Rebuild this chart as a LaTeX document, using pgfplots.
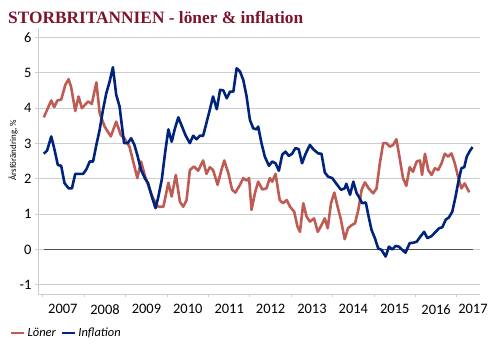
\documentclass[border=0pt]{standalone}
\usepackage{fontspec}
\setmainfont{Carlito}
\newfontfamily\titlefont{Liberation Serif}
\usepackage{pgfplots}
\pgfplotsset{compat=1.18}
\definecolor{lonred}{RGB}{190,92,84}
\definecolor{inflblue}{RGB}{0,35,125}
\definecolor{titlered}{RGB}{125,20,45}
\definecolor{gridgray}{RGB}{205,205,205}
\definecolor{zerogray}{RGB}{80,80,80}
\begin{document}
\begin{tikzpicture}
\useasboundingbox (0,0) rectangle (500bp,353bp);
\node[anchor=base west, inner sep=0pt, text=titlered, font=\titlefont\bfseries\fontsize{17.4}{18}\selectfont] at (8bp,329.7bp) {STORBRITANNIEN - löner \& inflation};
\node[rotate=90, inner sep=0pt, font=\fontsize{9}{10}\selectfont] at (13bp,203bp) {Årsförändring, \%};
\begin{axis}[
  at={(38bp,59bp)}, anchor=south west,
  scale only axis, width=442bp, height=266bp,
  xmin=2006.88, xmax=2017.56, ymin=-1.26, ymax=6.27,
  axis lines*=left,
  axis line style={gridgray, line width=1bp},
  ytick={-1,0,1,2,3,4,5,6},
  yticklabels={-1,0,1,2,3,4,5,6},
  xtick={2007.48,2008.5,2009.5,2010.5,2011.5,2012.5,2013.5,2014.5,2015.5,2016.5,2017.39},
  xticklabels={2007,2008,2009,2010,2011,2012,2013,2014,2015,2016,2017},
  minor xtick={2007,2008,2009,2010,2011,2012,2013,2014,2015,2016,2017},
  major x tick style={draw=none},
  tick align=outside,
  major tick length=3bp, minor tick length=3bp,
  tick style={gridgray, line width=1bp},
  ymajorgrids,
  grid style={gridgray, line width=1bp},
  tick label style={font=\fontsize{14.5}{14.5}\selectfont},
  xticklabel style={yshift=-4bp},
  legend columns=2,
  legend style={at={(-0.0633,-0.1466)}, anchor=west, draw=none, fill=none, inner sep=0pt,
    font=\itshape\fontsize{12.5}{13}\selectfont,
    /tikz/every even column/.append style={column sep=3bp}},
  legend image code/.code={\draw[#1, line width=2.5bp] (0bp,0bp) -- (13bp,0bp);},
]
\addplot[zerogray, line width=1bp, forget plot] coordinates {(2007.02,0) (2017.38,0)};
\addplot[lonred, line width=2.6bp, line join=round] coordinates {
(2007.02,3.74) (2007.20,4.22) (2007.27,4.03) (2007.35,4.22) (2007.44,4.24) (2007.54,4.66)
(2007.62,4.82) (2007.68,4.60) (2007.78,3.92) (2007.86,4.33) (2007.94,4.00) (2008.09,4.19)
(2008.18,4.12) (2008.29,4.73) (2008.37,3.86) (2008.49,3.48) (2008.64,3.20) (2008.77,3.62)
(2008.88,3.24) (2008.97,3.15) (2009.09,2.91) (2009.28,2.02) (2009.37,2.49) (2009.47,2.06)
(2009.58,1.69) (2009.66,1.45) (2009.78,1.21) (2009.91,1.21) (2010.03,1.89) (2010.11,1.50)
(2010.21,2.11) (2010.31,1.35) (2010.39,1.21) (2010.47,1.40) (2010.55,2.25) (2010.65,2.35)
(2010.75,2.23) (2010.87,2.52) (2010.95,2.14) (2011.03,2.33) (2011.11,2.25) (2011.22,1.83)
(2011.30,2.20) (2011.38,2.52) (2011.48,2.16) (2011.57,1.69) (2011.65,1.61) (2011.76,1.83)
(2011.84,2.02) (2011.92,1.95) (2011.98,2.02) (2012.04,1.12) (2012.12,1.59) (2012.20,1.92)
(2012.30,1.70) (2012.40,1.73) (2012.48,2.02) (2012.54,1.92) (2012.62,2.14) (2012.72,1.40)
(2012.80,1.31) (2012.89,1.40) (2012.97,1.21) (2013.07,1.07) (2013.15,0.65) (2013.21,0.50)
(2013.29,1.31) (2013.37,0.93) (2013.45,0.79) (2013.55,0.88) (2013.64,0.50) (2013.73,0.69)
(2013.81,0.88) (2013.88,0.60) (2013.96,1.31) (2014.04,1.61) (2014.12,1.21) (2014.20,0.84)
(2014.29,0.29) (2014.37,0.60) (2014.46,0.69) (2014.54,0.74) (2014.62,1.12) (2014.70,1.69)
(2014.78,1.90) (2014.87,1.73) (2014.98,1.59) (2015.06,1.73) (2015.14,2.44) (2015.22,3.01)
(2015.30,3.01) (2015.38,2.91) (2015.46,2.96) (2015.54,3.12) (2015.62,2.58) (2015.70,2.02)
(2015.78,1.80) (2015.86,2.33) (2015.94,2.20) (2016.03,2.49) (2016.11,2.52) (2016.16,2.11)
(2016.23,2.71) (2016.31,2.25) (2016.39,2.11) (2016.47,2.30) (2016.55,2.25) (2016.63,2.44)
(2016.71,2.71) (2016.79,2.63) (2016.87,2.72) (2016.95,2.44) (2017.03,2.06) (2017.11,1.73)
(2017.19,1.87) (2017.30,1.62)
};
\addlegendentry{Löner}
\addplot[inflblue, line width=2.6bp, line join=round] coordinates {
(2007.02,2.71) (2007.10,2.80) (2007.20,3.20) (2007.28,2.82) (2007.36,2.39) (2007.44,2.37)
(2007.52,1.88) (2007.62,1.73) (2007.70,1.73) (2007.78,2.14) (2007.89,2.14) (2007.97,2.14)
(2008.05,2.27) (2008.13,2.49) (2008.21,2.49) (2008.29,2.96) (2008.37,3.39) (2008.45,3.95)
(2008.53,4.42) (2008.61,4.75) (2008.69,5.16) (2008.77,4.38) (2008.85,4.05) (2008.96,3.01)
(2009.05,3.01) (2009.13,3.15) (2009.21,2.96) (2009.29,2.63) (2009.37,2.25) (2009.47,2.00)
(2009.54,1.88) (2009.63,1.50) (2009.72,1.17) (2009.78,1.45) (2009.87,1.97) (2009.95,2.73)
(2010.03,3.40) (2010.11,3.05) (2010.19,3.43) (2010.27,3.74) (2010.36,3.48) (2010.45,3.22)
(2010.55,3.01) (2010.63,3.22) (2010.71,3.12) (2010.79,3.22) (2010.87,3.22) (2010.95,3.58)
(2011.03,3.95) (2011.11,4.33) (2011.20,3.97) (2011.28,4.52) (2011.36,4.50) (2011.44,4.28)
(2011.52,4.47) (2011.60,4.47) (2011.68,5.13) (2011.76,5.04) (2011.84,4.80) (2011.92,4.33)
(2012.00,3.67) (2012.08,3.43) (2012.16,3.40) (2012.20,3.48) (2012.28,3.01) (2012.36,2.63)
(2012.46,2.37) (2012.54,2.49) (2012.62,2.44) (2012.70,2.23) (2012.78,2.68) (2012.86,2.77)
(2012.94,2.65) (2013.02,2.71) (2013.10,2.87) (2013.18,2.84) (2013.26,2.44) (2013.35,2.72)
(2013.45,2.96) (2013.53,2.84) (2013.65,2.72) (2013.73,2.71) (2013.81,2.18) (2013.89,2.06)
(2013.99,2.02) (2014.09,1.86) (2014.20,1.69) (2014.29,1.73) (2014.33,1.86) (2014.42,1.55)
(2014.50,1.92) (2014.58,1.59) (2014.63,1.50) (2014.71,1.31) (2014.80,1.33) (2014.86,0.98)
(2014.94,0.55) (2015.02,0.32) (2015.10,0.03) (2015.18,-0.01) (2015.28,-0.20) (2015.36,0.08)
(2015.44,0.00) (2015.52,0.10) (2015.60,0.08) (2015.68,-0.01) (2015.76,-0.09) (2015.86,0.18)
(2015.94,0.19) (2016.03,0.22) (2016.11,0.35) (2016.21,0.50) (2016.29,0.32) (2016.39,0.38)
(2016.49,0.50) (2016.57,0.60) (2016.65,0.63) (2016.73,0.84) (2016.81,0.91) (2016.89,1.07)
(2016.97,1.50) (2017.03,1.88) (2017.11,2.30) (2017.18,2.33) (2017.24,2.63) (2017.32,2.80)
(2017.38,2.90)
};
\addlegendentry{Inflation}
\end{axis}
\end{tikzpicture}
\end{document}
